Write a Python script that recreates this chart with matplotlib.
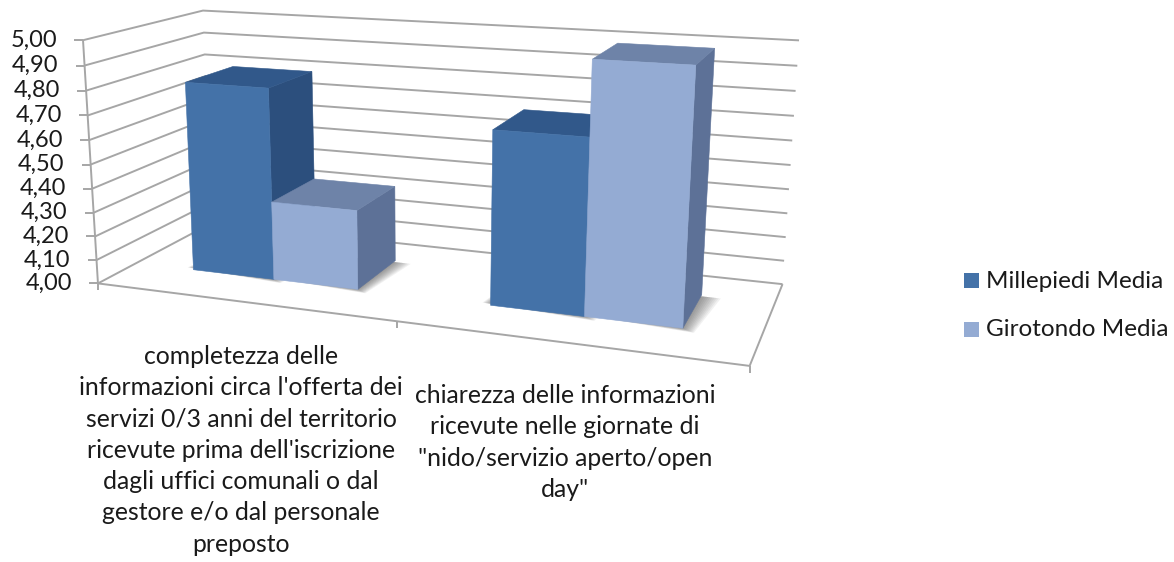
# plot.py - 3D style clustered columns drawn on a flat matplotlib axes

import numpy as np
import matplotlib
matplotlib.use("Agg")
import matplotlib.pyplot as plt
from matplotlib.patches import Polygon, Rectangle


# =========================
# 1. Chart data
# =========================

categories = [
    "completezza delle\ninformazioni circa l'offerta dei\nservizi 0/3 anni del territorio\n"
    "ricevute prima dell'iscrizione\ndagli uffici comunali o dal\ngestore e/o dal personale\npreposto",
    "chiarezza delle informazioni\nricevute nelle giornate di\n\"nido/servizio aperto/open\nday\"",
]
series_names = ["Millepiedi Media", "Girotondo Media"]
millepiedi = [4.80, 4.70]
girotondo = [4.33, 4.99]
y_ticks = [4.0, 4.1, 4.2, 4.3, 4.4, 4.5, 4.6, 4.7, 4.8, 4.9, 5.0]
y_labels = ["4,00", "4,10", "4,20", "4,30", "4,40", "4,50", "4,60", "4,70", "4,80", "4,90", "5,00"]


# =========================
# 2. Projection of the chart box
# =========================

# box corners as (u, v, w) -> pixel, u along categories, v up, w into the page
BOX = [
    ((0, 0, 0), (98.3, 282.7)),
    ((0, 1, 0), (82.7, 40.7)),
    ((1, 0, 0), (750.0, 366.7)),
    ((1, 1, 0), (767.0, 80.6)),
    ((0, 0, 1), (211.0, 224.0)),
    ((0, 1, 1), (203.3, 10.0)),
    ((1, 0, 1), (782.3, 283.3)),
    ((1, 1, 1), (799.3, 41.0)),
]

rows, rhs = [], []
for (u, v, w), (px, py) in BOX:
    rows.append([u, v, w, 1, 0, 0, 0, 0, -px * u, -px * v, -px * w])
    rows.append([0, 0, 0, 0, u, v, w, 1, -py * u, -py * v, -py * w])
    rhs += [px, py]
coef = np.linalg.lstsq(np.array(rows, float), np.array(rhs, float), rcond=None)[0]
P = np.append(coef, 1.0).reshape(3, 4)


def project(u, value, w):
    """Map a category position, a value and a depth to pixel coordinates."""
    v = (value - y_ticks[0]) / (y_ticks[-1] - y_ticks[0])
    x, y, s = P @ np.array([u, v, w, 1.0])
    return x / s, y / s


# =========================
# 3. Figure and wall grid
# =========================

plt.rcParams["font.family"] = ["Lato", "DejaVu Sans"]

fig = plt.figure(figsize=(11.74, 5.62), dpi=100)
ax = fig.add_axes([0, 0, 1, 1])
ax.set_xlim(0, 1174)
ax.set_ylim(562, 0)
ax.axis("off")

GRID = "#a6a6a6"
TEXT = "#1a1a1a"
LW = 1.4
FONT = 17.5


def line(points, zorder=1):
    xs, ys = zip(*points)
    ax.plot(xs, ys, color=GRID, lw=LW, zorder=zorder, solid_capstyle="butt")


for tick, label in zip(y_ticks, y_labels):
    line([project(0, tick, 0), project(0, tick, 1), project(1, tick, 1)])
    fx, fy = project(0, tick, 0)
    line([(fx - 9, fy), (fx, fy)])
    # labels follow the slanted axis
    ax.text(fx - 26, fy, label, ha="right", va="center", fontsize=17, color=TEXT)

line([project(0, y_ticks[0], 0), project(0, y_ticks[-1], 0)])
line([project(0, y_ticks[0], 0), project(1, y_ticks[0], 0), project(1, y_ticks[0], 1)])

for u in [0, 0.5, 1]:
    tx, ty = project(u, y_ticks[0], 0)
    line([(tx, ty), (tx, ty + 7)])


# =========================
# 4. Columns
# =========================

BAR_START = 0.105
BAR_WIDTH = 0.143
DEPTH_FRONT = 0.31
DEPTH_BACK = 0.74

STYLES = [
    {"front": "#4472a8", "top": "#31588a", "side": "#2c4f7d"},
    {"front": "#94abd3", "top": "#6e83a8", "side": "#5d7197"},
]


def draw_column(u0, value, style):
    u1 = u0 + BAR_WIDTH
    low = y_ticks[0]

    # soft shadow on the floor
    for grow in np.linspace(0.002, 0.03, 10):
        shadow = [
            project(u0 - grow * 0.5, low, DEPTH_FRONT + 0.02),
            project(u1 + grow * 0.6, low, DEPTH_FRONT - grow * 1.2),
            project(u1 + grow, low, DEPTH_BACK - 0.02),
            project(u0, low, DEPTH_BACK - 0.02),
        ]
        ax.add_patch(Polygon(shadow, closed=True, fc="#404040", ec="none", alpha=0.07, zorder=2))

    faces = [
        ("side", [(u1, low, DEPTH_FRONT), (u1, low, DEPTH_BACK), (u1, value, DEPTH_BACK), (u1, value, DEPTH_FRONT)]),
        ("top", [(u0, value, DEPTH_FRONT), (u1, value, DEPTH_FRONT), (u1, value, DEPTH_BACK), (u0, value, DEPTH_BACK)]),
        ("front", [(u0, low, DEPTH_FRONT), (u1, low, DEPTH_FRONT), (u1, value, DEPTH_FRONT), (u0, value, DEPTH_FRONT)]),
    ]
    for name, corners in faces:
        pts = [project(*c) for c in corners]
        ax.add_patch(Polygon(pts, closed=True, fc=style[name], ec=style[name], lw=0.4, zorder=3))


for i in range(len(categories)):
    base = i * 0.5 + BAR_START
    draw_column(base, millepiedi[i], STYLES[0])
    draw_column(base + BAR_WIDTH, girotondo[i], STYLES[1])


# =========================
# 5. Category labels and legend
# =========================

label_spots = [(241, 345), (565, 384)]
for text, (lx, ly) in zip(categories, label_spots):
    ax.text(lx, ly, text, ha="center", va="top", fontsize=17.8, color=TEXT, linespacing=1.435)

legend_y = [281, 330]
for name, ly, style in zip(series_names, legend_y, STYLES):
    ax.add_patch(Rectangle((964, ly - 8), 15, 15, fc=style["front"], ec="none", zorder=3))
    ax.text(986, ly, name, ha="left", va="center", fontsize=FONT, color=TEXT)

fig.savefig("out.png", dpi=100)
